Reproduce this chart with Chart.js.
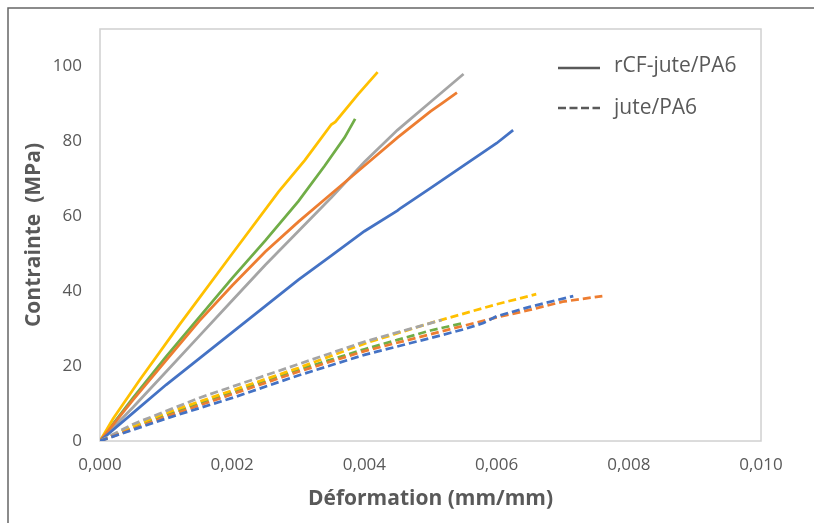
<!DOCTYPE html>
<html>
<head>
<meta charset="utf-8">
<title>Contrainte - Déformation</title>
<script src="https://cdn.jsdelivr.net/npm/chart.js@4/dist/chart.umd.min.js"></script>
<style>
  body { margin: 0; background: #fff; }
  #wrap { width: 814px; height: 523px; position: relative; }
</style>
</head>
<body>
<div id="wrap"><canvas id="myChart"></canvas></div>
<script>
// tick values
var xTicks = [0, 0.002, 0.004, 0.006, 0.008, 0.010];
var yTicks = [0, 20, 40, 60, 80, 100];

// legend
var legendLabels = ['rCF-jute/PA6', 'jute/PA6'];

// rCF-jute/PA6 (solid lines)
var rcfBlueX   = [0, 0.0005, 0.001, 0.0015, 0.002, 0.0025, 0.003, 0.0035, 0.004, 0.0045, 0.00455, 0.005, 0.0055, 0.006, 0.00625];
var rcfBlueY   = [0, 7.5, 15, 22, 29, 36, 43, 49.5, 56, 61.5, 62.2, 67.5, 73.5, 79.5, 83];
var rcfOrangeX = [0, 0.0005, 0.001, 0.0015, 0.002, 0.0025, 0.003, 0.0035, 0.004, 0.0045, 0.005, 0.0052, 0.0054];
var rcfOrangeY = [0, 11, 21.5, 32, 41.5, 50.5, 58.5, 66, 73.5, 81, 88, 90.5, 93];
var rcfGrayX   = [0, 0.0005, 0.001, 0.0015, 0.002, 0.0025, 0.003, 0.0035, 0.004, 0.0045, 0.005, 0.0055];
var rcfGrayY   = [0, 9, 18.5, 28, 37.5, 47, 56, 65, 74.5, 83, 90.5, 98];
var rcfYellowX = [0, 0.0002, 0.0006, 0.0012, 0.002, 0.0027, 0.0031, 0.0035, 0.00356, 0.0039, 0.0042];
var rcfYellowY = [0, 6, 16.3, 31, 50, 66.5, 75, 84.5, 85.2, 92.5, 98.5];
var rcfGreenX  = [0, 0.0005, 0.001, 0.0015, 0.002, 0.0025, 0.003, 0.0034, 0.0037, 0.00386];
var rcfGreenY  = [0, 11.5, 22.5, 33, 43.5, 53.5, 64, 73.5, 81, 86];

// jute/PA6 (dashed lines)
var juteBlueX   = [0, 0.0005, 0.001, 0.002, 0.003, 0.004, 0.005, 0.0055, 0.0058, 0.006, 0.0065, 0.00716];
var juteBlueY   = [0, 3, 6, 11.5, 17.5, 23, 27.5, 29.8, 31.5, 33.3, 35.8, 38.7];
var juteOrangeX = [0, 0.0005, 0.001, 0.002, 0.003, 0.004, 0.005, 0.006, 0.0065, 0.007, 0.0076];
var juteOrangeY = [0, 3.2, 6.5, 12.5, 18.5, 24, 28.5, 33, 35, 37.2, 38.7];
var juteGrayX   = [0, 0.0005, 0.001, 0.0015, 0.002, 0.003, 0.004, 0.0045, 0.00517];
var juteGrayY   = [0, 4.5, 8, 11.5, 14.5, 20.5, 26.5, 29, 32.3];
var juteYellowX = [0, 0.0005, 0.001, 0.0015, 0.002, 0.003, 0.004, 0.005, 0.006, 0.0066];
var juteYellowY = [0, 4, 7.5, 10.5, 13.5, 19.5, 26, 31.5, 36.5, 39.2];
var juteGreenX  = [0, 0.0005, 0.001, 0.002, 0.003, 0.004, 0.0045, 0.005, 0.0055];
var juteGreenY  = [0, 3.8, 7, 13, 19, 24.5, 27, 29.5, 31.5];

var BLUE = '#4472C4', ORANGE = '#ED7D31', GRAY = '#A5A5A5', YELLOW = '#FFC000', GREEN = '#70AD47';
var TEXT = '#595959';

function pts(xs, ys) {
  return xs.map(function (x, i) { return { x: x, y: ys[i] }; });
}

function series(xs, ys, color, dashed) {
  return {
    data: pts(xs, ys),
    showLine: true,
    borderColor: color,
    backgroundColor: color,
    borderWidth: 2.75,
    borderDash: dashed ? [8, 4] : [],
    pointRadius: 0,
    tension: 0,
    fill: false
  };
}

var datasets = [
  series(juteBlueX, juteBlueY, BLUE, true),
  series(juteOrangeX, juteOrangeY, ORANGE, true),
  series(juteGrayX, juteGrayY, GRAY, true),
  series(juteYellowX, juteYellowY, YELLOW, true),
  series(juteGreenX, juteGreenY, GREEN, true),
  series(rcfBlueX, rcfBlueY, BLUE, false),
  series(rcfOrangeX, rcfOrangeY, ORANGE, false),
  series(rcfGrayX, rcfGrayY, GRAY, false),
  series(rcfYellowX, rcfYellowY, YELLOW, false),
  series(rcfGreenX, rcfGreenY, GREEN, false)
];

// plot frame, outer frame and the little legend
var decor = {
  id: 'decor',
  beforeDatasetsDraw: function (chart) {
    var a = chart.chartArea, ctx = chart.ctx;
    ctx.save();
    ctx.strokeStyle = '#D0D0D0';
    ctx.lineWidth = 1.5;
    ctx.strokeRect(a.left, a.top, a.right - a.left, a.bottom - a.top);
    ctx.restore();
  },
  afterDraw: function (chart) {
    var ctx = chart.ctx;
    ctx.save();
    // outer frame (left + top)
    ctx.strokeStyle = '#666666';
    ctx.lineWidth = 1.5;
    ctx.beginPath();
    ctx.moveTo(814, 8);
    ctx.lineTo(8, 8);
    ctx.lineTo(8, 523);
    ctx.stroke();

    // legend
    ctx.strokeStyle = TEXT;
    ctx.lineWidth = 2.5;
    ctx.beginPath();
    ctx.moveTo(558, 68);
    ctx.lineTo(600, 68);
    ctx.stroke();
    ctx.setLineDash([8, 3.5]);
    ctx.beginPath();
    ctx.moveTo(558, 108);
    ctx.lineTo(600, 108);
    ctx.stroke();
    ctx.setLineDash([]);

    ctx.fillStyle = TEXT;
    ctx.font = '21px "Open Sans"';
    ctx.textBaseline = 'alphabetic';
    ctx.textAlign = 'left';
    ctx.fillText(legendLabels[0], 614, 72);
    ctx.fillText(legendLabels[1], 614, 114);
    ctx.restore();
  }
};

var ctx = document.getElementById('myChart').getContext('2d');
var myChart = new Chart(ctx, {
  type: 'scatter',
  data: { datasets: datasets },
  options: {
    responsive: true,
    maintainAspectRatio: false,
    animation: false,
    layout: { padding: { top: 29, right: 53, left: 0, bottom: 0 } },
    plugins: {
      legend: { display: false },
      tooltip: { enabled: false }
    },
    scales: {
      x: {
        type: 'linear',
        min: 0,
        max: 0.010,
        afterFit: function (s) { s.height = 82; },
        afterBuildTicks: function (s) { s.ticks = xTicks.map(function (v) { return { value: v }; }); },
        grid: { display: false, drawTicks: false },
        border: { display: false },
        ticks: {
          padding: 14,
          color: TEXT,
          font: { family: '"Open Sans"', size: 17 },
          maxRotation: 0,
          callback: function (v) { return v.toFixed(3).replace('.', ','); }
        },
        title: {
          display: true,
          text: 'Déformation (mm/mm)',
          color: TEXT,
          font: { family: '"Open Sans"', size: 21, weight: 'bold' },
          padding: { top: 0, bottom: 11 }
        }
      },
      y: {
        type: 'linear',
        min: 0,
        max: 110,
        afterFit: function (s) { s.width = 100; },
        afterBuildTicks: function (s) { s.ticks = yTicks.map(function (v) { return { value: v }; }); },
        grid: { display: false, drawTicks: false },
        border: { display: false },
        ticks: {
          padding: 18,
          color: TEXT,
          font: { family: '"Open Sans"', size: 17 }
        },
        title: {
          display: true,
          text: 'Contrainte  (MPa)',
          color: TEXT,
          font: { family: '"Open Sans"', size: 21, weight: 'bold' },
          padding: { top: 21, bottom: 0 }
        }
      }
    }
  },
  plugins: [decor]
});
</script>
</body>
</html>
